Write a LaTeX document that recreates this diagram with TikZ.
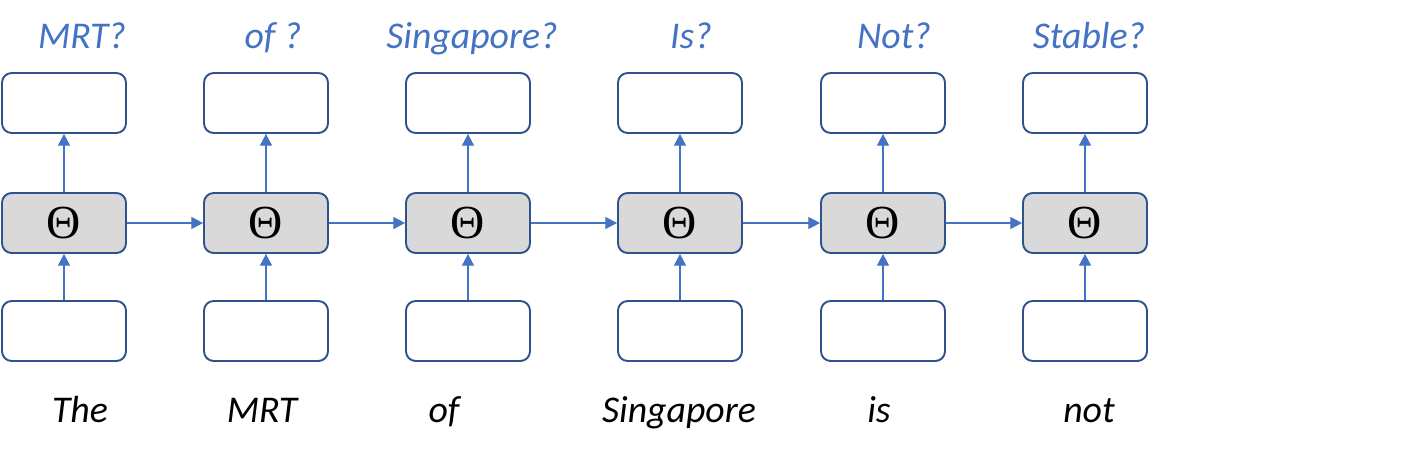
\documentclass[tikz,border=0pt]{standalone}
\usepackage{fontspec}
\setmainfont{Carlito}
\newfontfamily\thetafont{Liberation Serif}
\usetikzlibrary{arrows.meta}
\definecolor{boxblue}{HTML}{2F528F}
\definecolor{arrowblue}{HTML}{4472C4}
\definecolor{cellgray}{HTML}{D9D9D9}
\tikzset{
  wordbox/.style={draw=boxblue,fill=white,line width=1.1pt,rounded corners=5.5pt,
    minimum width=2.48cm,minimum height=1.2cm,inner sep=0pt},
  cell/.style={wordbox,fill=cellgray,font=\thetafont\fontsize{27}{27}\selectfont},
  flow/.style={draw=arrowblue,line width=0.6pt,-{Triangle[length=6.6pt,width=6.8pt]}},
  guess/.style={anchor=base,text=arrowblue,font=\itshape\fontsize{21.5}{24}\selectfont},
  word/.style={anchor=base,font=\itshape\fontsize{21.5}{24}\selectfont}
}
\begin{document}
\begin{tikzpicture}[x=0.02cm,y=-0.02cm]
\useasboundingbox (0,0) rectangle (1413,454);
\foreach \n/\x/\w/\wx/\g/\gx in {1/64/The/80/MRT?/82,2/266/MRT/262/of ?/273,
  3/468/of/444/Singapore?/472,4/680/Singapore/679/Is?/691,
  5/883/is/879/Not?/894,6/1085/not/1089/Stable?/1089}
{
%cells
\node[wordbox] (top\n) at (\x,103){};
\node[cell] (cell\n) at (\x,223){Θ};
\node[wordbox] (bot\n) at (\x,331){};
%labels
\node[guess] (guess\n) at (\gx,48){\g};
\node[word] (word\n) at (\wx,422){\w};
\draw[flow] (bot\n) -- (cell\n);
\draw[flow] (cell\n) -- (top\n);
}
\foreach \a/\b in {1/2,2/3,3/4,4/5,5/6}
\draw[flow] (cell\a) -- (cell\b);
\end{tikzpicture}
\end{document}
